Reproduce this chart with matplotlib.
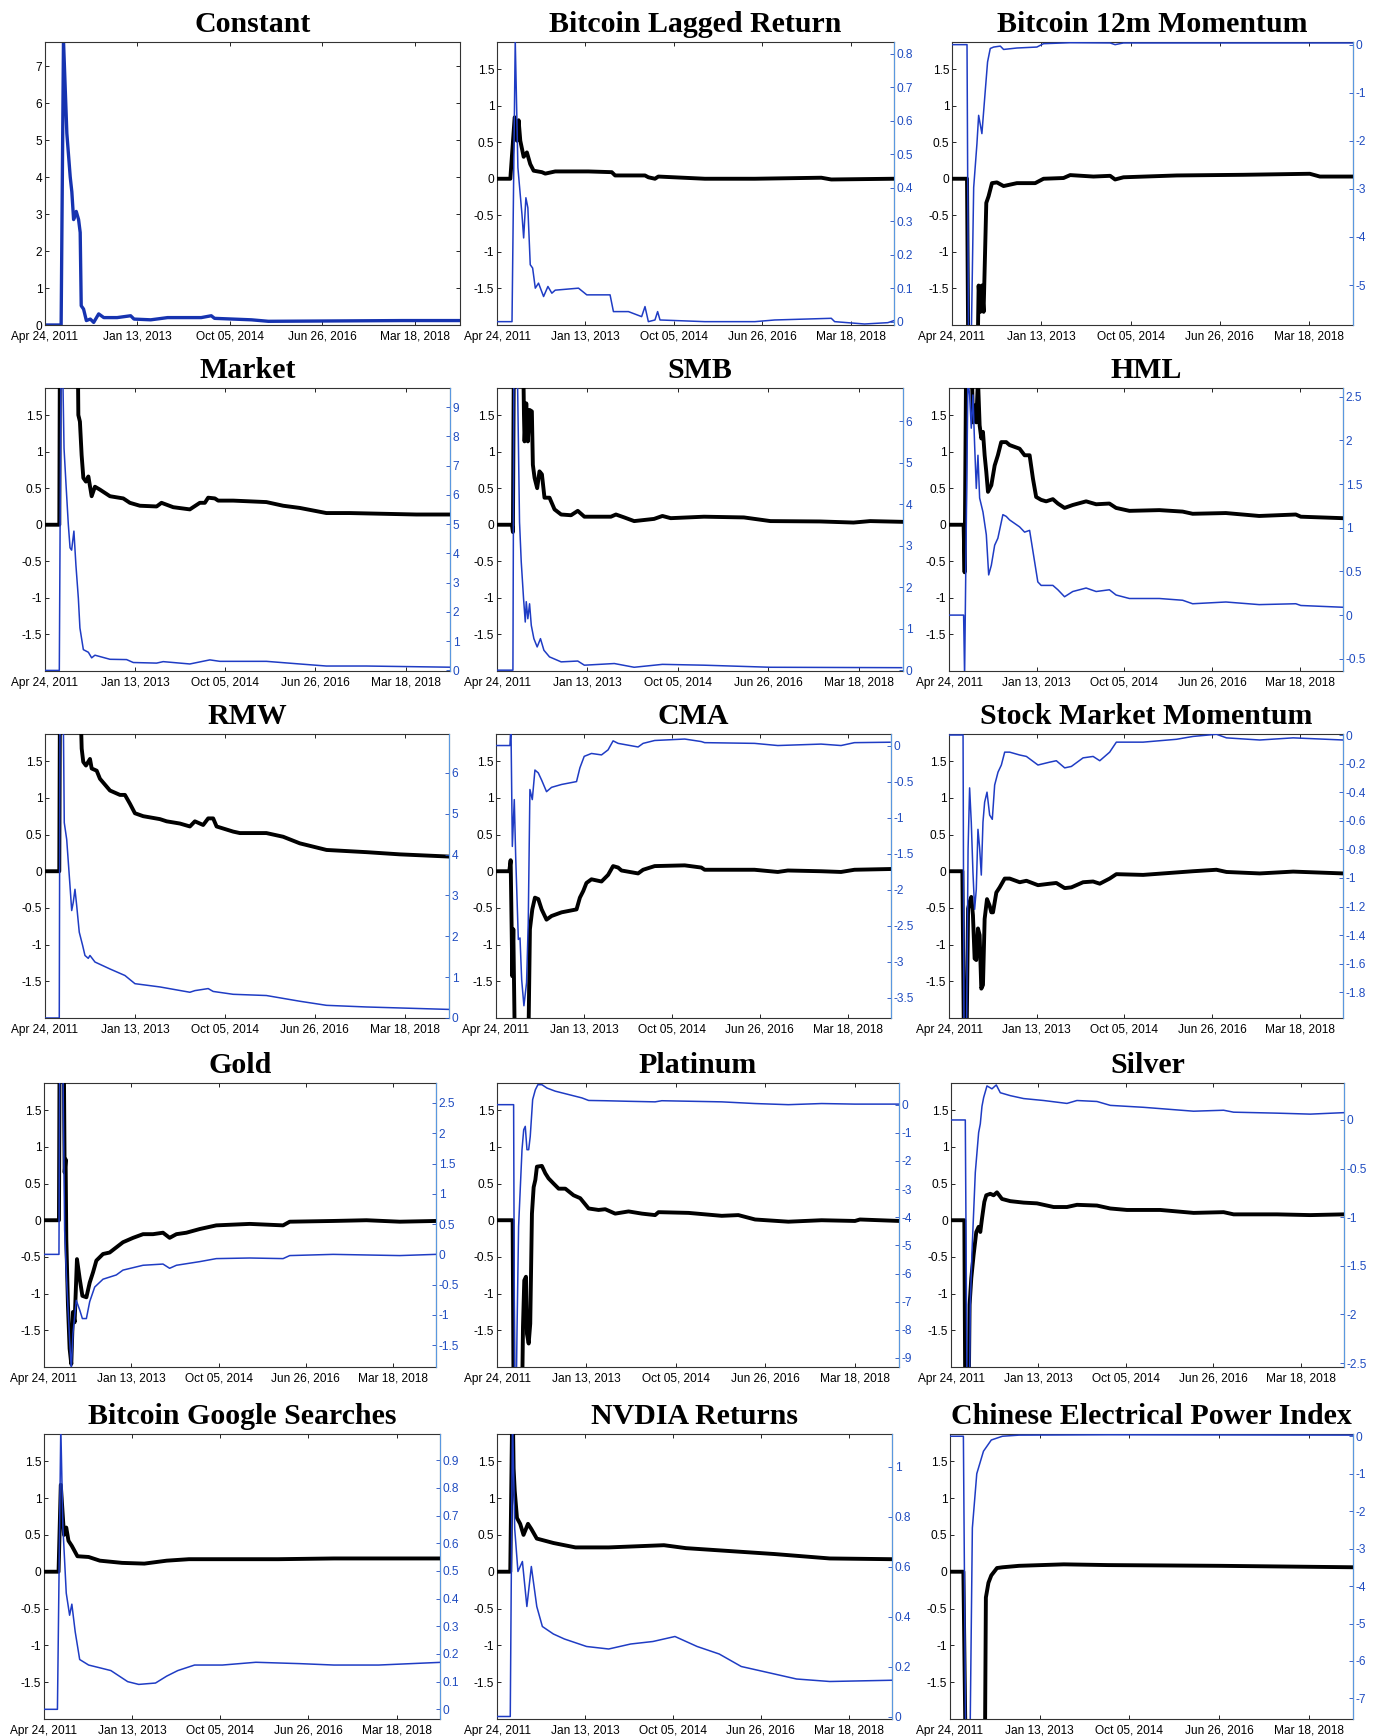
import matplotlib
matplotlib.use('Agg')
import matplotlib.pyplot as plt
from matplotlib.ticker import MultipleLocator, FormatStrFormatter

# x values are days after Apr 24, 2011
date_ticks = [0, 630, 1260, 1890, 2520]
date_labels = ['Apr 24, 2011', 'Jan 13, 2013', 'Oct 05, 2014', 'Jun 26, 2016', 'Mar 18, 2018']
x_end = 2830

# Constant (single axis)
const_t = [0, 110, 126, 149, 172, 183, 195, 213, 229, 240, 247, 263, 282, 309, 332, 366, 401, 492, 584, 607,
           721, 836, 1065, 1134, 1156, 1408, 1523, 1981, 2439, 2851]
const_v = [0, 0, 7.7, 5.18, 4.0, 3.6, 2.85, 3.07, 2.85, 2.5, 0.52, 0.43, 0.12, 0.16, 0.07, 0.3, 0.2, 0.2, 0.25, 0.16,
           0.14, 0.2, 0.2, 0.25, 0.18, 0.14, 0.1, 0.11, 0.12, 0.12]

# Bitcoin Lagged Return
lag_tk = [0, 95, 126, 142, 154, 166, 190, 213, 237, 261, 320, 344, 415, 652, 818, 842, 1055, 1079, 1126, 1150,
          1482, 1838, 2312, 2383, 2829]
lag_k = [0, 0, 0.84, 0.52, 0.8, 0.52, 0.30, 0.36, 0.2, 0.11, 0.09, 0.07, 0.1, 0.1, 0.09, 0.045, 0.045, 0.02, 0.0, 0.03,
         0.0, 0.0, 0.014, -0.01, 0.0]
lag_tb = [0, 107, 130, 149, 178, 190, 206, 220, 237, 254, 273, 296, 332, 363, 391, 415, 581, 640, 806, 830, 937,
          1031, 1055, 1079, 1126, 1145, 1162, 1482, 1838, 1980, 2383, 2407, 2620, 2786, 2829]
lag_b = [0, 0, 0.84, 0.46, 0.32, 0.25, 0.37, 0.34, 0.17, 0.16, 0.1, 0.115, 0.075, 0.105, 0.085, 0.094, 0.1, 0.08,
         0.08, 0.03, 0.03, 0.015, 0.045, 0.0, 0.005, 0.03, 0.005, 0.0, 0.0, 0.005, 0.01, 0.0, -0.007, -0.003, 0.003]

# Bitcoin 12m Momentum
mom_tk = [0, 106, 117, 176, 188, 200, 211, 223, 242, 258, 282, 317, 364, 458, 587, 646, 787, 834, 998, 1116, 1151,
          1210, 1586, 2055, 2525, 2596, 2831]
mom_k = [0, 0, -3, -3, -1.46, -1.82, -1.46, -1.82, -0.33, -0.24, -0.06, -0.05, -0.1, -0.06, -0.06, 0.0, 0.01, 0.05,
         0.03, 0.04, -0.01, 0.02, 0.045, 0.054, 0.068, 0.03, 0.03]
mom_tb = [0, 106, 117, 134, 153, 176, 188, 211, 235, 251, 270, 294, 341, 364, 458, 599, 646, 834, 1116, 1151, 1210, 2831]
mom_b = [0, 0, -6.5, -6.5, -2.97, -2.06, -1.47, -1.85, -0.95, -0.36, -0.08, -0.05, -0.03, -0.1, -0.07, -0.05, 0.02,
         0.04, 0.035, 0.0, 0.035, 0.035]

# Market
mkt_tk = [0, 100, 105, 226, 233, 244, 256, 268, 286, 303, 326, 349, 384, 454, 547, 593, 663, 780, 814, 896, 1012,
          1082, 1117, 1140, 1187, 1210, 1315, 1547, 1664, 1780, 1966, 2129, 2362, 2595, 2827]
mkt_k = [0, 0, 3, 3, 1.5, 1.41, 0.95, 0.64, 0.59, 0.66, 0.39, 0.52, 0.48, 0.39, 0.36, 0.3, 0.26, 0.25, 0.3, 0.24, 0.21,
         0.3, 0.3, 0.37, 0.36, 0.33, 0.33, 0.31, 0.26, 0.23, 0.16, 0.16, 0.15, 0.14, 0.14]
mkt_tb = [0, 100, 112, 123, 133, 147, 163, 175, 186, 202, 216, 233, 244, 268, 303, 326, 349, 454, 570, 617, 780, 826,
          1012, 1152, 1222, 1547, 1780, 1966, 2246, 2827]
mkt_b = [0, 0, 10.5, 10.5, 7.59, 6.34, 4.98, 4.19, 4.11, 4.76, 3.6, 2.47, 1.45, 0.71, 0.62, 0.43, 0.52, 0.38, 0.37,
         0.27, 0.25, 0.3, 0.22, 0.36, 0.31, 0.31, 0.22, 0.15, 0.15, 0.11]

# SMB
smb_tk = [0, 104, 111, 118, 181, 188, 192, 204, 215, 227, 243, 250, 262, 280, 296, 313, 331, 366, 401, 447, 516, 563,
          609, 794, 829, 887, 956, 1095, 1153, 1211, 1443, 1721, 1906, 2253, 2485, 2601, 2821]
smb_k = [0, 0, -0.1, 2.5, 2.5, 1.5, 1.14, 1.66, 1.14, 1.57, 1.55, 0.82, 0.64, 0.5, 0.73, 0.69, 0.37, 0.37, 0.21, 0.14,
         0.13, 0.19, 0.11, 0.11, 0.14, 0.1, 0.05, 0.08, 0.12, 0.09, 0.11, 0.1, 0.05, 0.045, 0.03, 0.05, 0.04]
smb_tb = [0, 111, 118, 141, 157, 169, 185, 197, 204, 215, 227, 239, 257, 280, 303, 327, 366, 447, 563, 609, 818, 956,
          1153, 1443, 1906, 2821]
smb_b = [0, 0, 7.5, 7.5, 3.57, 2.61, 1.73, 1.16, 1.65, 1.24, 1.6, 1.08, 0.76, 0.56, 0.76, 0.48, 0.32, 0.2, 0.22, 0.12,
         0.16, 0.07, 0.14, 0.12, 0.07, 0.06]

# HML
hml_tk = [0, 105, 112, 124, 160, 172, 184, 196, 208, 220, 232, 244, 256, 268, 280, 304, 328, 351, 375, 411, 435, 507,
          543, 579, 603, 626, 662, 698, 746, 782, 830, 889, 985, 1057, 1152, 1200, 1296, 1511, 1678, 1750, 1989, 2228,
          2491, 2527, 2826]
hml_k = [0, 0, -0.65, 2.5, 2.5, 1.4, 1.63, 1.4, 2.0, 1.36, 1.18, 1.27, 0.95, 0.72, 0.45, 0.54, 0.81, 0.95, 1.13, 1.13,
         1.09, 1.04, 0.95, 0.95, 0.63, 0.38, 0.34, 0.32, 0.35, 0.29, 0.23, 0.27, 0.32, 0.28, 0.29, 0.23, 0.19, 0.2, 0.18,
         0.15, 0.16, 0.12, 0.14, 0.11, 0.09]
hml_tb = [0, 105, 112, 136, 148, 160, 172, 184, 196, 208, 220, 244, 268, 285, 304, 328, 351, 387, 411, 435, 507, 543,
          579, 603, 638, 662, 746, 782, 830, 889, 985, 1057, 1152, 1200, 1296, 1511, 1678, 1750, 1989, 2228, 2491, 2527,
          2826]
hml_b = [0, 0, -0.7, 2.7, 2.52, 2.14, 2.52, 1.95, 1.45, 1.83, 1.34, 1.18, 0.92, 0.46, 0.57, 0.8, 0.88, 1.15, 1.13, 1.09,
         1.01, 0.95, 0.97, 0.73, 0.38, 0.34, 0.34, 0.29, 0.21, 0.27, 0.31, 0.27, 0.29, 0.23, 0.19, 0.19, 0.17, 0.13, 0.15,
         0.12, 0.13, 0.11, 0.09]

# RMW
rmw_tk = [0, 100, 105, 245, 257, 268, 287, 315, 327, 362, 385, 455, 525, 560, 595, 630, 688, 805, 852, 945, 1015, 1050,
          1108, 1143, 1178, 1202, 1318, 1365, 1551, 1668, 1785, 1972, 2251, 2485, 2830]
rmw_k = [0, 0, 2.5, 2.5, 1.67, 1.49, 1.44, 1.53, 1.4, 1.37, 1.26, 1.1, 1.04, 1.04, 0.92, 0.79, 0.75, 0.71, 0.68, 0.65,
         0.61, 0.68, 0.63, 0.72, 0.72, 0.61, 0.54, 0.52, 0.52, 0.47, 0.38, 0.29, 0.26, 0.23, 0.2]
rmw_tb = [0, 100, 105, 128, 135, 152, 175, 187, 198, 210, 222, 240, 264, 280, 303, 315, 350, 455, 560, 630, 805, 1015,
          1050, 1143, 1178, 1318, 1551, 1785, 1972, 2251, 2830]
rmw_b = [0, 0, 7.5, 7.5, 4.78, 4.37, 3.24, 2.63, 2.83, 3.15, 2.75, 2.1, 1.77, 1.53, 1.46, 1.53, 1.37, 1.2, 1.04, 0.84,
         0.76, 0.63, 0.67, 0.72, 0.65, 0.58, 0.55, 0.41, 0.31, 0.27, 0.21]

# CMA
cma_tk = [0, 95, 105, 117, 124, 136, 231, 243, 260, 279, 303, 327, 362, 398, 470, 577, 601, 625, 648, 684, 756, 803,
          839, 875, 899, 1018, 1054, 1137, 1352, 1471, 1495, 1852, 2019, 2091, 2329, 2472, 2568, 2823]
cma_k = [0, 0, 0.15, -1.43, -0.79, -2.5, -2.5, -0.79, -0.52, -0.36, -0.38, -0.52, -0.66, -0.61, -0.56, -0.52, -0.36,
         -0.27, -0.16, -0.11, -0.14, -0.05, 0.07, 0.05, 0.01, -0.03, 0.02, 0.07, 0.08, 0.05, 0.02, 0.02, -0.01, 0.01, 0.0,
         -0.01, 0.02, 0.03]
cma_tb = [0, 100, 107, 117, 131, 141, 160, 172, 184, 200, 219, 231, 243, 260, 279, 303, 327, 362, 398, 470, 577, 601,
          632, 684, 756, 803, 839, 875, 1018, 1054, 1137, 1352, 1471, 1495, 1852, 2019, 2329, 2472, 2568, 2823]
cma_b = [0, 0, 0.3, -1.4, -0.75, -1.54, -2.69, -2.67, -3.25, -3.61, -3.29, -2.46, -0.61, -0.75, -0.34, -0.38, -0.48,
         -0.64, -0.58, -0.54, -0.5, -0.31, -0.15, -0.11, -0.13, -0.06, 0.065, 0.03, -0.02, 0.03, 0.07, 0.09, 0.055, 0.04,
         0.03, 0.0, 0.02, 0.0, 0.04, 0.046]

# Stock Market Momentum
smm_tk = [0, 96, 108, 125, 137, 148, 160, 172, 184, 196, 208, 220, 232, 244, 256, 273, 292, 304, 316, 340, 364, 400,
          436, 508, 556, 639, 723, 771, 831, 879, 963, 1035, 1083, 1154, 1202, 1394, 1753, 1921, 1993, 2232, 2472, 2831]
smm_k = [0, 0, -2.5, -2.5, -0.51, -0.42, -0.35, -0.6, -1.19, -1.21, -0.78, -0.87, -1.6, -1.55, -0.65, -0.38, -0.47,
         -0.56, -0.56, -0.29, -0.22, -0.1, -0.1, -0.15, -0.13, -0.19, -0.17, -0.16, -0.23, -0.22, -0.15, -0.14, -0.17,
         -0.1, -0.04, -0.05, 0.0, 0.02, -0.01, -0.03, -0.005, -0.03]
smm_tb = [0, 101, 108, 125, 137, 148, 160, 172, 184, 196, 208, 220, 232, 244, 256, 273, 292, 311, 328, 352, 376, 400,
          436, 508, 556, 639, 723, 771, 831, 879, 963, 1035, 1083, 1154, 1202, 1394, 1634, 1753, 1921, 1993, 2232, 2472,
          2592, 2831]
smm_b = [0, 0, -2.2, -2.2, -0.8, -0.37, -0.61, -0.96, -1.22, -1.08, -0.66, -0.79, -0.98, -0.61, -0.47, -0.4, -0.56,
         -0.59, -0.35, -0.26, -0.21, -0.12, -0.12, -0.14, -0.15, -0.21, -0.19, -0.18, -0.23, -0.22, -0.16, -0.15, -0.18,
         -0.12, -0.05, -0.05, -0.03, -0.01, 0.005, -0.02, -0.035, -0.02, -0.025, -0.035]

# Gold
gold_tk = [0, 108, 113, 142, 149, 156, 161, 173, 185, 197, 209, 221, 238, 258, 277, 306, 330, 354, 378, 426, 474, 522,
           570, 643, 715, 787, 859, 907, 956, 1028, 1124, 1244, 1485, 1726, 1774, 2087, 2328, 2568, 2828]
gold_k = [0, 0, 2.5, 2.5, 0.65, 0.83, -0.26, -1.16, -1.75, -1.96, -1.25, -1.39, -0.53, -0.8, -1.03, -1.05, -0.85,
          -0.71, -0.55, -0.46, -0.44, -0.37, -0.3, -0.24, -0.19, -0.19, -0.17, -0.24, -0.19, -0.17, -0.12, -0.07, -0.05,
          -0.07, -0.02, -0.01, 0.0, -0.02, -0.01]
gold_tb = [0, 108, 113, 137, 149, 161, 185, 197, 209, 233, 258, 277, 306, 330, 366, 426, 522, 570, 715, 859, 907, 956,
           1124, 1244, 1485, 1726, 1774, 2087, 2568, 2828]
gold_b = [0, 0, 3.0, 3.0, 0.4, -0.31, -1.42, -1.9, -1.31, -0.76, -0.92, -1.06, -1.06, -0.78, -0.54, -0.41, -0.34,
          -0.26, -0.18, -0.16, -0.23, -0.18, -0.12, -0.07, -0.06, -0.07, -0.02, 0.0, -0.02, 0.0]

# Platinum
plat_tk = [0, 110, 117, 176, 183, 192, 204, 211, 223, 234, 246, 258, 270, 281, 316, 340, 363, 398, 434, 481, 539, 586,
           645, 715, 762, 832, 926, 1020, 1113, 1137, 1348, 1582, 1699, 1817, 2051, 2285, 2520, 2555, 2832]
plat_k = [0, 0, -2.5, -2.5, -1.45, -0.82, -0.77, -1.55, -1.68, -1.41, 0.09, 0.45, 0.55, 0.73, 0.74, 0.64, 0.57, 0.5,
          0.43, 0.43, 0.34, 0.3, 0.16, 0.14, 0.15, 0.09, 0.12, 0.09, 0.07, 0.11, 0.1, 0.06, 0.07, 0.01, -0.02, 0.0, -0.01,
          0.01, -0.01]
plat_tb = [0, 117, 124, 136, 141, 152, 176, 188, 199, 211, 223, 234, 251, 270, 288, 316, 352, 410, 504, 598, 645, 762,
           926, 1113, 1160, 1582, 1817, 2051, 2285, 2520, 2832]
plat_b = [0, 0, -10, -10, -8.0, -4.33, -1.6, -0.89, -0.77, -1.6, -1.6, -1.13, 0.18, 0.53, 0.71, 0.71, 0.59, 0.48, 0.36,
          0.24, 0.15, 0.14, 0.12, 0.1, 0.14, 0.1, 0.04, 0.0, 0.04, 0.02, 0.02]

# Silver
silv_tk = [0, 96, 103, 127, 134, 146, 163, 182, 199, 211, 223, 240, 254, 283, 307, 331, 367, 427, 523, 619, 739, 835,
           907, 1051, 1147, 1267, 1507, 1747, 1963, 2035, 2347, 2587, 2827]
silv_k = [0, 0, -2.5, -2.5, -1.15, -0.79, -0.47, -0.16, -0.09, -0.16, 0.02, 0.25, 0.34, 0.36, 0.34, 0.38, 0.29, 0.26,
          0.24, 0.23, 0.18, 0.18, 0.21, 0.2, 0.16, 0.14, 0.14, 0.1, 0.11, 0.08, 0.08, 0.07, 0.08]
silv_tb = [0, 103, 115, 134, 139, 151, 175, 199, 211, 223, 235, 259, 295, 326, 355, 427, 523, 667, 835, 907, 1051, 1147,
           1387, 1747, 1963, 2035, 2347, 2587, 2827]
silv_b = [0, 0, -2.7, -2.7, -1.91, -1.36, -0.54, -0.13, -0.04, 0.14, 0.23, 0.35, 0.32, 0.36, 0.28, 0.25, 0.22, 0.2,
          0.17, 0.2, 0.19, 0.15, 0.13, 0.09, 0.1, 0.08, 0.07, 0.06, 0.075]

# Bitcoin Google Searches
goog_tk = [0, 104, 120, 143, 159, 175, 199, 239, 319, 399, 558, 717, 877, 1036, 1674, 2072, 2845]
goog_k = [0, 0, 1.18, 0.5, 0.6, 0.42, 0.35, 0.21, 0.2, 0.15, 0.12, 0.11, 0.15, 0.17, 0.17, 0.18, 0.18]
goog_tb = [0, 96, 120, 135, 159, 183, 199, 223, 255, 319, 399, 478, 598, 677, 797, 877, 956, 1076, 1275, 1514, 1833,
           2072, 2391, 2845]
goog_b = [0, 0, 1.02, 0.66, 0.42, 0.34, 0.38, 0.28, 0.18, 0.16, 0.15, 0.14, 0.1, 0.09, 0.095, 0.12, 0.14, 0.16, 0.16,
          0.17, 0.165, 0.16, 0.16, 0.17]

# NVDIA Returns
nvda_tk = [0, 95, 111, 119, 127, 143, 166, 190, 222, 246, 285, 404, 562, 800, 1196, 1354, 1592, 1988, 2384, 2827]
nvda_k = [0, 0, 2.5, 1.4, 1.1, 0.73, 0.65, 0.5, 0.65, 0.58, 0.45, 0.39, 0.33, 0.33, 0.36, 0.32, 0.29, 0.24, 0.18, 0.17]
nvda_tb = [0, 95, 111, 127, 150, 182, 214, 246, 285, 325, 404, 483, 642, 800, 958, 1117, 1275, 1434, 1592, 1750, 1988,
           2146, 2384, 2827]
nvda_b = [0, 0, 1.2, 0.75, 0.58, 0.62, 0.44, 0.6, 0.44, 0.36, 0.33, 0.31, 0.28, 0.27, 0.29, 0.3, 0.32, 0.28, 0.25, 0.2,
          0.17, 0.15, 0.14, 0.145]

# Chinese Electrical Power Index
cepi_tk = [0, 94, 110, 245, 252, 270, 290, 330, 368, 485, 799, 1112, 1895, 2850]
cepi_k = [0, 0, -2.5, -2.5, -0.35, -0.15, -0.05, 0.05, 0.06, 0.08, 0.1, 0.09, 0.08, 0.06]
cepi_tb = [0, 94, 110, 141, 157, 188, 235, 290, 368, 485, 1112, 2850]
cepi_b = [0, 0, -8, -8, -2.45, -1.0, -0.4, -0.1, 0.0, 0.03, 0.04, 0.03]

titles = ['Constant', 'Bitcoin Lagged Return', 'Bitcoin 12m Momentum', 'Market', 'SMB', 'HML',
          'RMW', 'CMA', 'Stock Market Momentum', 'Gold', 'Platinum', 'Silver',
          'Bitcoin Google Searches', 'NVDIA Returns', 'Chinese Electrical Power Index']

series = [(const_t, const_v, None, None),
          (lag_tk, lag_k, lag_tb, lag_b),
          (mom_tk, mom_k, mom_tb, mom_b),
          (mkt_tk, mkt_k, mkt_tb, mkt_b),
          (smb_tk, smb_k, smb_tb, smb_b),
          (hml_tk, hml_k, hml_tb, hml_b),
          (rmw_tk, rmw_k, rmw_tb, rmw_b),
          (cma_tk, cma_k, cma_tb, cma_b),
          (smm_tk, smm_k, smm_tb, smm_b),
          (gold_tk, gold_k, gold_tb, gold_b),
          (plat_tk, plat_k, plat_tb, plat_b),
          (silv_tk, silv_k, silv_tb, silv_b),
          (goog_tk, goog_k, goog_tb, goog_b),
          (nvda_tk, nvda_k, nvda_tb, nvda_b),
          (cepi_tk, cepi_k, cepi_tb, cepi_b)]

# right axis limits and tick step for each panel
right_lims = [None, (-0.01, 0.835), (-5.83, 0.055), (-0.02, 9.65), (-0.02, 6.8), (-0.64, 2.6),
              (0, 6.95), (-3.78, 0.16), (-1.98, 0.007), (-1.86, 2.83), (-9.32, 0.77), (-2.54, 0.38),
              (-0.035, 0.995), (-0.01, 1.13), (-7.55, 0.06)]
right_steps = [None, 0.1, 1, 1, 1, 0.5, 1, 0.5, 0.2, 0.5, 1, 0.5, 0.1, 0.2, 1]

# axes boxes in pixels: left, right, top, bottom
boxes = [(45, 460, 42, 325), (497, 894, 42, 325), (952, 1353, 42, 325),
         (45, 450, 388, 671), (497, 903, 388, 671), (949, 1343, 388, 671),
         (45, 449, 734, 1018), (496, 891, 734, 1018), (949, 1343, 734, 1018),
         (44, 436, 1083, 1367), (497, 899, 1083, 1367), (951, 1344, 1083, 1367),
         (44, 440, 1434, 1719), (497, 892, 1434, 1719), (950, 1353, 1434, 1719)]

W, H = 1385, 1736
plt.rcParams['font.family'] = ['Liberation Sans', 'DejaVu Sans']
fig = plt.figure(figsize=(W / 100, H / 100), dpi=100)

blue = '#1f3cc4'
tick_blue = '#1f4cc0'
spine_blue = '#5a98e0'

for i in range(15):
    l, r, t, b = boxes[i]
    ax = fig.add_axes([l / W, 1 - b / H, (r - l) / W, (b - t) / H])
    tk, vk, tb, vb = series[i]
    ax.set_xlim(0, x_end)
    ax.set_xticks(date_ticks)
    ax.set_xticklabels(date_labels)
    ax.tick_params(axis='both', direction='in', length=3, width=0.6, labelsize=8.6, top=True, pad=2)
    ax.tick_params(axis='x', pad=4)
    for s in ax.spines.values():
        s.set_color('#333333')
        s.set_linewidth(0.8)
    ax.set_title(titles[i], fontsize=21.5, fontweight='bold', family='Liberation Serif', pad=7)

    if tb is None:
        # only one line on this panel
        ax.plot(tk, vk, color='#1633b0', lw=2.4)
        ax.set_ylim(0, 7.65)
        ax.yaxis.set_major_locator(MultipleLocator(1))
        ax.tick_params(axis='y', right=True)
        ax.get_yticklabels()[0].set_verticalalignment('bottom')
        continue

    ax.plot(tk, vk, color='black', lw=2.8, zorder=3)
    ax.set_ylim(-2.0, 1.87)
    ax.set_yticks([-1.5, -1, -0.5, 0, 0.5, 1, 1.5])
    ax.yaxis.set_major_formatter(FormatStrFormatter('%g'))

    ax2 = ax.twinx()
    ax2.plot(tb, vb, color=blue, lw=1.1)
    ax2.set_ylim(*right_lims[i])
    ax2.yaxis.set_major_locator(MultipleLocator(right_steps[i]))
    ax2.yaxis.set_major_formatter(FormatStrFormatter('%g'))
    ax2.tick_params(axis='y', direction='in', length=3, width=0.6, labelsize=8.6, colors=tick_blue, pad=2)
    ax2.spines['right'].set_color(spine_blue)
    ax2.spines['right'].set_linewidth(0.8)
    for s in ['left', 'top', 'bottom']:
        ax2.spines[s].set_visible(False)

fig.savefig('out.png', dpi=100)
